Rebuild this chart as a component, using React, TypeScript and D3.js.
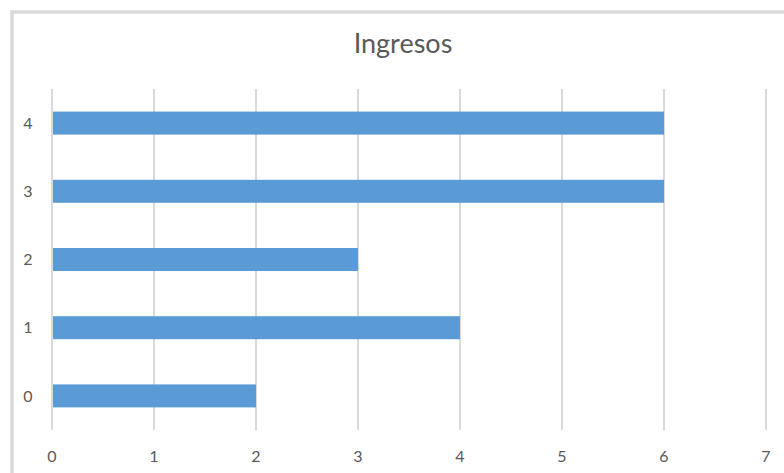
import React from "react";
import * as d3 from "d3";

const categories = ["0", "1", "2", "3", "4"];
const values = [2, 4, 3, 6, 6];
const xTicks = [0, 1, 2, 3, 4, 5, 6, 7];
const title = "Ingresos";

export default function App() {
  const W = 784, H = 473;
  const left = 52, right = 766, top = 89, bottom = 430;
  const x = d3.scaleLinear().domain([0, 7]).range([left, right]);
  const y = d3.scaleBand().domain([...categories].reverse()).range([top, bottom]).paddingInner(0.66).paddingOuter(0.33);
  const font = "Lato, 'Open Sans', sans-serif";
  return (
    <svg width={W} height={H} style={{ position: "absolute", left: 0, top: 0 }}>
      <rect x={0} y={0} width={W} height={H} fill="#fff" />
      <path d={`M12,${H} V12 H${W}`} fill="none" stroke="#d9d9d9" strokeWidth={3.5} />
      <text x={403} y={53} textAnchor="middle" fontFamily={font} fontSize={27} fill="#595959">{title}</text>
      {xTicks.map(t => (
        <line key={"g" + t} x1={x(t)} x2={x(t)} y1={top} y2={bottom} stroke="#d9d9d9" strokeWidth={2} />
      ))}
      {categories.map((c, i) => {
        const bw = y.bandwidth();
        const cy = (y(c) as number) + bw / 2;
        return (
          <g key={c}>
            <rect x={x(0) + 1} y={cy - 11.5} width={x(values[i]) - x(0) - 1} height={23} fill="#5B9BD5" />
            <text x={28} y={cy} dy="0.35em" textAnchor="middle" fontFamily={font} fontSize={16} fill="#595959">{c}</text>
          </g>
        );
      })}
      {xTicks.map(t => (
        <text key={"t" + t} x={x(t)} y={456} dy="0.35em" textAnchor="middle" fontFamily={font} fontSize={16} fill="#595959">{t}</text>
      ))}
    </svg>
  );
}
